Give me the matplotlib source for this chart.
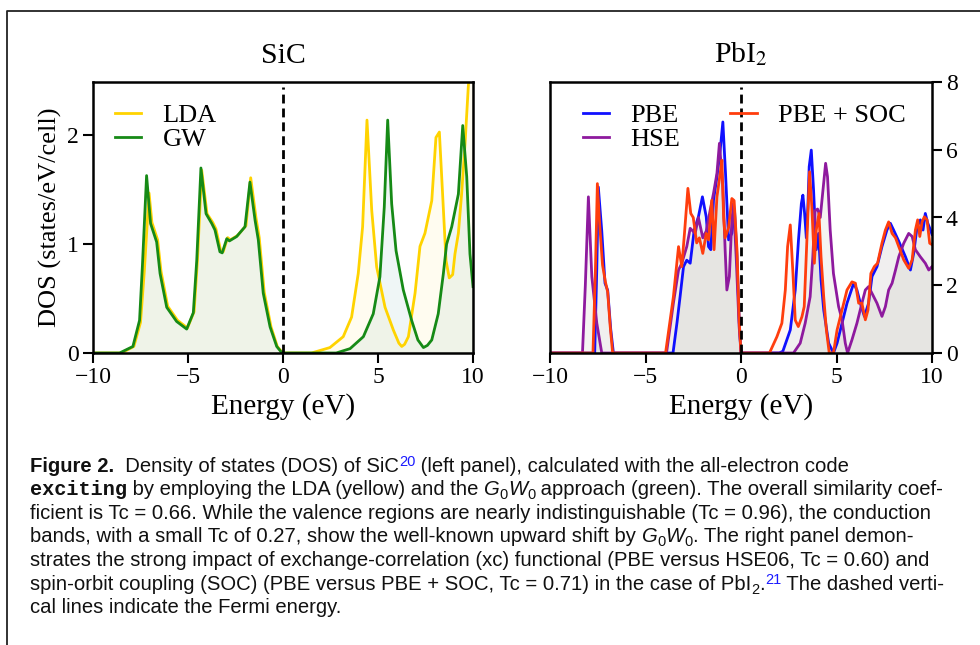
import numpy as np
import matplotlib
matplotlib.use('Agg')
import matplotlib.pyplot as plt
from matplotlib.lines import Line2D

plt.rcParams.update({'font.family': 'Liberation Serif', 'mathtext.fontset': 'stix'})

# SiC, LDA and GW  (energy in eV, DOS in states/eV/cell)
lda_E = [-10, -8.5, -7.85, -7.5, -7.3, -7.05, -6.9, -6.6, -6.42, -6.07, -5.55, -5.03, -4.68, -4.5, -4.28,
         -4.0, -3.7, -3.53, -3.28, -3.15, -2.91, -2.77, -2.39, -1.95, -1.7, -1.42, -1.25, -0.99, -0.63, -0.3,
         -0.02, 1.5, 2.47, 3.17, 3.61, 3.96, 4.19, 4.42, 4.67, 4.93, 5.37, 5.81, 6.1, 6.25, 6.4, 6.6, 6.95,
         7.21, 7.47, 7.83, 8.05, 8.23, 8.4, 8.58, 8.75, 8.93, 9.05, 9.23, 9.4, 9.58, 9.75, 10.0]
lda_D = [0, 0, 0.06, 0.28, 0.75, 1.47, 1.2, 1.04, 0.75, 0.43, 0.30, 0.23, 0.38, 0.86, 1.68,
         1.28, 1.2, 1.14, 0.94, 0.93, 1.06, 1.04, 1.08, 1.17, 1.61, 1.24, 1.06, 0.56, 0.24, 0.06,
         0, 0, 0.05, 0.15, 0.33, 0.73, 1.16, 2.14, 1.31, 0.79, 0.42, 0.21, 0.09, 0.06, 0.08, 0.15, 0.55,
         0.98, 1.10, 1.40, 1.98, 2.03, 1.46, 0.85, 0.69, 0.72, 0.91, 1.10, 1.46, 1.92, 2.44, 3.0]
gw_E = [-10, -8.6, -7.9, -7.55, -7.4, -7.18, -6.97, -6.65, -6.47, -6.12, -5.6, -5.07, -4.72, -4.54, -4.32,
        -4.05, -3.75, -3.58, -3.32, -3.2, -2.96, -2.82, -2.44, -2.0, -1.74, -1.47, -1.3, -1.04, -0.68, -0.33,
        -0.05, 2.8, 3.53, 4.23, 4.75, 5.1, 5.33, 5.51, 5.72, 5.95, 6.33, 6.77, 7.1, 7.39, 7.6, 7.83, 8.17,
        8.44, 8.61, 8.88, 9.23, 9.46, 9.67, 9.84, 10.0]
gw_D = [0, 0, 0.06, 0.30, 0.8, 1.63, 1.19, 1.02, 0.73, 0.42, 0.29, 0.22, 0.37, 0.85, 1.70,
        1.28, 1.19, 1.13, 0.93, 0.92, 1.05, 1.03, 1.07, 1.16, 1.57, 1.22, 1.04, 0.55, 0.24, 0.06,
        0, 0, 0.04, 0.15, 0.36, 0.70, 1.34, 2.14, 1.37, 0.94, 0.58, 0.30, 0.12, 0.05, 0.07, 0.12, 0.36,
        0.73, 1.0, 1.16, 1.46, 2.09, 1.62, 0.91, 0.61]

# PbI2, PBE / HSE / PBE+SOC
pbe_E = [-10, -7.66, -7.55, -7.47, -7.29, -7.12, -6.98, -6.82, -6.68,
         -3.56, -3.35, -3.19, -3.01, -2.84, -2.66, -2.45, -2.23, -2.02, -1.82, -1.7, -1.58, -1.44, -1.26,
         -1.09, -0.95, -0.81, -0.65, -0.48, -0.34, -0.21, -0.09, 0.0,
         2.0, 2.19, 2.58, 2.84, 3.01, 3.16, 3.24, 3.33, 3.42, 3.5, 3.57, 3.68, 3.8, 3.94, 4.06, 4.19, 4.33,
         4.59, 4.84, 5.03, 5.29, 5.55, 5.9, 6.07, 6.25, 6.46, 6.68, 6.86, 7.12, 7.38, 7.64, 7.82, 7.99,
         8.26, 8.61, 8.87, 9.04, 9.22, 9.39, 9.53, 9.65, 9.78, 9.92, 10.0]
pbe_D = [0, 0, 2.5, 4.9, 3.6, 2.06, 1.85, 0.7, 0,
         0, 0.9, 1.66, 2.55, 2.74, 2.65, 3.63, 4.02, 4.61, 4.02, 3.14, 3.05, 4.51, 5.2,
         5.99, 6.82, 5.3, 3.34, 3.53, 4.22, 2.84, 0.9, 0,
         0, 0.05, 0.68, 1.86, 3.34, 4.41, 4.66, 4.12, 3.4, 4.3, 5.5, 5.99, 4.8, 3.05, 3.53, 2.16, 1.27,
         0.29, 0.0, 0.29, 0.88, 1.47, 2.06, 1.86, 1.47, 1.08, 1.47, 2.26, 2.55, 3.14, 3.63, 3.83, 3.63,
         3.3, 2.84, 2.45, 2.94, 3.73, 3.93, 3.63, 4.12, 3.83, 3.63, 3.5]
hse_E = [-10, -8.3, -8.15, -7.99, -7.81, -7.55, -7.29,
         -3.9, -3.54, -3.27, -3.1, -2.84, -2.66, -2.4, -2.23, -2.0, -1.82, -1.62, -1.44, -1.26, -1.13,
         -0.95, -0.83, -0.74, -0.61, -0.48, -0.39, -0.25, -0.1, 0.0,
         2.75, 3.1, 3.36, 3.62, 3.76, 3.88, 4.01, 4.15, 4.29, 4.43, 4.53, 4.67, 4.84, 5.11, 5.29, 5.46,
         5.58, 5.81, 6.07, 6.33, 6.51, 6.68, 6.86, 7.12, 7.38, 7.56, 7.73, 7.91, 8.09, 8.26, 8.52, 8.78,
         8.96, 9.13, 9.39, 9.65, 9.83, 10.0]
hse_D = [0, 0, 2.0, 4.61, 2.25, 0.88, 0,
         0, 1.47, 2.45, 2.65, 3.14, 3.68, 3.53, 4.0, 3.4, 3.6, 4.2, 4.71, 5.3, 6.19,
         4.9, 3.04, 1.86, 2.26, 3.92, 4.41, 2.8, 0.8, 0,
         0, 0.29, 0.88, 1.66, 2.84, 4.2, 4.25, 4.0, 4.8, 5.6, 5.2, 3.63, 2.35, 1.37, 0.98, 0.29,
         0, 0.39, 0.88, 1.47, 1.86, 1.96, 1.76, 1.47, 1.08, 1.37, 1.86, 2.06, 2.45, 2.84, 3.24, 3.53,
         3.44, 3.05, 2.84, 2.65, 2.45, 2.55]
soc_E = [-10, -7.75, -7.62, -7.52, -7.4, -7.25, -7.1, -6.98, -6.85, -6.72,
         -3.95, -3.54, -3.27, -3.1, -2.96, -2.78, -2.63, -2.5, -2.32, -2.18, -2.0, -1.82, -1.7, -1.53,
         -1.41, -1.26, -1.09, -1.0, -0.91, -0.83, -0.65, -0.48, -0.36, -0.21, -0.09, 0.0,
         1.49, 1.88, 2.14, 2.32, 2.44, 2.58, 2.72, 2.84, 3.0, 3.19, 3.31, 3.45, 3.59, 3.71, 3.84, 3.94,
         4.08, 4.19, 4.33, 4.47, 4.62, 4.84, 5.03, 5.29, 5.55, 5.81, 5.99, 6.16, 6.33, 6.51, 6.65, 6.8,
         6.98, 7.15, 7.38, 7.56, 7.73, 7.91, 8.09, 8.26, 8.52, 8.78, 8.96, 9.13, 9.25, 9.36, 9.48, 9.6,
         9.74, 9.88, 10.0]
soc_D = [0, 0, 2.5, 5.0, 3.8, 2.6, 2.1, 1.8, 0.8, 0,
         0, 1.66, 3.14, 2.55, 3.53, 4.86, 4.12, 4.0, 3.25, 3.4, 2.94, 3.53, 3.34, 4.51,
         3.05, 4.61, 5.3, 5.69, 4.0, 3.4, 3.7, 4.56, 4.5, 3.05, 0.9, 0,
         0, 0.48, 0.88, 1.86, 3.14, 3.78, 2.35, 0.97, 0.78, 1.07, 1.37, 3.34, 5.35, 4.3, 2.65, 3.63,
         4.12, 2.84, 1.66, 0.68, 0, 0, 0.68, 1.27, 1.86, 2.1, 2.06, 1.47, 1.47, 0.98, 1.27, 2.35,
         2.55, 2.65, 3.24, 3.63, 3.87, 3.53, 3.4, 3.14, 2.75, 2.5, 2.75, 3.63, 3.93, 3.44, 3.87, 4.02,
         3.93, 3.24, 3.2]

W, H = 980, 645
fig = plt.figure(figsize=(9.8, 6.45), dpi=100)

def px_axes(x0, x1, y0, y1):
    return fig.add_axes([x0 / W, 1 - y1 / H, (x1 - x0) / W, (y1 - y0) / H])

ax1 = px_axes(93, 473, 82, 353)
ax2 = px_axes(550, 932, 82, 353)

# line colour, fill colour, fill alpha
for E, D, c, fc, fa, lab in [(lda_E, lda_D, '#ffd300', '#ffd300', 0.06, 'LDA'),
                             (gw_E, gw_D, '#168a16', '#2a8a80', 0.07, 'GW')]:
    ax1.fill_between(E, D, color=fc, alpha=fa, lw=0)
    ax1.plot(E, D, color=c, lw=2, label=lab)

for E, D, c, fc, fa, lab in [(pbe_E, pbe_D, '#1010ff', '#4a8a9a', 0.08, 'PBE'),
                             (hse_E, hse_D, '#8e1a9e', '#6a6a40', 0.07, 'HSE'),
                             (soc_E, soc_D, '#ff3d0d', '#ff6030', 0.04, 'PBE + SOC')]:
    ax2.fill_between(E, D, color=fc, alpha=fa, lw=0)
    ax2.plot(E, D, color=c, lw=2, label=lab)

for ax in (ax1, ax2):
    ax.axvline(0, ymax=0.98, color='k', ls='--', lw=2, dashes=(3.2, 1.8))
    ax.set_xlim(-10, 10)
    ax.set_xticks([-10, -5, 0, 5, 10])
    ax.set_xlabel('Energy (eV)', fontsize=21, labelpad=4)
    ax.tick_params(labelsize=17, width=1.5, length=7, direction='out', pad=3)
    for s in ax.spines.values():
        s.set_linewidth(1.8)

ax1.set_ylim(0, 2.49)
ax1.set_yticks([0, 1, 2])
ax1.set_ylabel('DOS (states/eV/cell)', fontsize=19, labelpad=4)
ax1.set_title('SiC', fontsize=21.5, pad=14)
ax1.legend(loc='upper left', frameon=False, fontsize=19, handlelength=1.0, handletextpad=0.8,
           labelspacing=0.0, borderaxespad=0.43)

ax2.set_ylim(0, 8)
ax2.set_yticks([0, 2, 4, 6, 8])
ax2.yaxis.tick_right()
ax2.set_title('PbI$_2$', fontsize=21.5, pad=14)
ax2.legend(loc='upper left', bbox_to_anchor=(11 / 382, 1), frameon=False, fontsize=19, ncol=2,
           handlelength=1.0, handletextpad=0.8, labelspacing=0.0, columnspacing=1.9, borderaxespad=0.43)

# frame around the figure
fig.add_artist(Line2D([7 / W, 7 / W, 1], [0, 1 - 10.5 / H, 1 - 10.5 / H], color='#222222', lw=1.3))

# caption
renderer = fig.canvas.get_renderer()
BLUE = '#1a1aff'
cap_lines = [
    [('Figure 2.', 'b'), ('  Density of states (DOS) of SiC', 'n'), ('20', 'sup'),
     (' (left panel), calculated with the all-electron code', 'n')],
    [('exciting', 'mono'), (' by employing the LDA (yellow) and the ', 'n'), ('G', 'it'), ('0', 'sub'),
     ('W', 'it'), ('0', 'sub'), (' approach (green). The overall similarity coef-', 'n')],
    [('ficient is Tc = 0.66. While the valence regions are nearly indistinguishable (Tc = 0.96), the conduction', 'n')],
    [('bands, with a small Tc of 0.27, show the well-known upward shift by ', 'n'), ('G', 'it'), ('0', 'sub'),
     ('W', 'it'), ('0', 'sub'), ('. The right panel demon-', 'n')],
    [('strates the strong impact of exchange-correlation (xc) functional (PBE versus HSE06, Tc = 0.60) and', 'n')],
    [('spin-orbit coupling (SOC) (PBE versus PBE + SOC, Tc = 0.71) in the case of PbI', 'n'), ('2', 'sub'),
     ('.', 'n'), ('21', 'sup'), (' The dashed verti-', 'n')],
    [('cal lines indicate the Fermi energy.', 'n')],
]

def style(kind, fs):
    st = dict(family='Liberation Sans', fontsize=fs, color='#111111')
    dy = 0
    if kind == 'b':
        st['weight'] = 'bold'
    elif kind == 'it':
        st['style'] = 'italic'
    elif kind == 'mono':
        st.update(family='Liberation Mono', weight='bold')
    elif kind == 'sub':
        st['fontsize'] = fs * 0.72
        dy = -4
    elif kind == 'sup':
        st.update(fontsize=fs * 0.72, color=BLUE)
        dy = 6
    return st, dy

def seg_width(t, s):
    t.set_text('|' + s + '|')
    w1 = t.get_window_extent(renderer).width
    t.set_text('||')
    w2 = t.get_window_extent(renderer).width
    t.set_text(s)
    return w1 - w2

def draw_line(segs, x, y, fs, draw=True):
    for s, kind in segs:
        st, dy = style(kind, fs)
        t = fig.text(x / W, 1 - (y - dy) / H, s, va='baseline', ha='left', **st)
        x += seg_width(t, s)
        if not draw:
            t.remove()
    return x

# pick the caption size so that the longest line spans like in the source
fs0 = 13
w = draw_line(cap_lines[2], 0, 0, fs0, draw=False)
cap_fs = fs0 * 900 / w

for i, segs in enumerate(cap_lines):
    draw_line(segs, 30, 471.5 + i * 23.6, cap_fs)

fig.savefig('out.png', dpi=100)
